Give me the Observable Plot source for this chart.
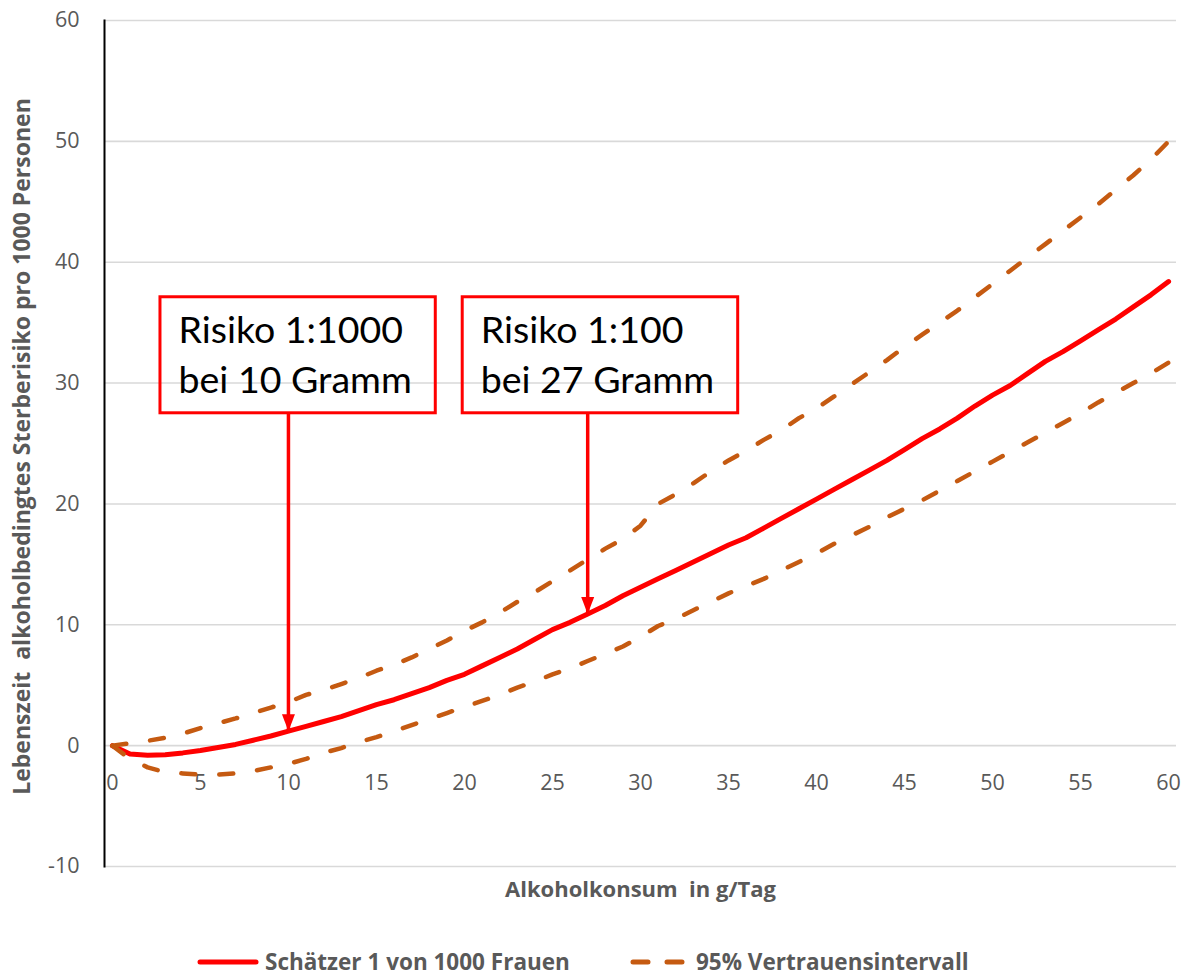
<!DOCTYPE html>
<html>
<head>
<meta charset="utf-8">
<script src="https://cdn.jsdelivr.net/npm/d3@7"></script>
<script src="https://cdn.jsdelivr.net/npm/@observablehq/plot@0.6"></script>
<style>
  html, body { margin: 0; padding: 0; background: #ffffff; font-family: "Open Sans", sans-serif; overflow: hidden; }
  #chart svg { display: block; }
  #legend { position: relative; width: 1190px; height: 58px; }
  #legend .item { position: absolute; top: 29px; height: 26px; display: flex; align-items: center; gap: 6px;
    font-family: "Open Sans", sans-serif; font-weight: bold; font-size: 22.5px; color: #595959; white-space: nowrap; line-height: 26px; }
  #legend svg { display: block; }
</style>
</head>
<body>
<div id="chart"></div>
<div id="legend"></div>
<script>
// ---- data ----
const gramm = [0,1,2,3,4,5,6,7,8,9,10,11,12,13,14,15,16,17,18,19,20,21,22,23,24,25,26,27,28,29,30,
  31,32,33,34,35,36,37,38,39,40,41,42,43,44,45,46,47,48,49,50,51,52,53,54,55,56,57,58,59,60];
const schaetzer = [0,-0.7,-0.8,-0.75,-0.6,-0.4,-0.15,0.1,0.45,0.8,1.2,1.6,2.0,2.4,2.9,3.4,3.8,4.3,4.8,5.4,5.9,
  6.6,7.3,8.0,8.8,9.6,10.2,10.9,11.6,12.4,13.1,13.8,14.5,15.2,15.9,16.6,17.2,18.0,18.8,19.6,20.4,
  21.2,22.0,22.8,23.6,24.5,25.4,26.2,27.1,28.1,29.0,29.8,30.8,31.8,32.6,33.5,34.4,35.3,36.3,37.3,38.4];
const obereGrenze = [0,0.2,0.4,0.65,1.0,1.45,1.85,2.25,2.7,3.15,3.6,4.2,4.6,5.1,5.6,6.2,6.7,7.3,8.0,8.7,9.5,
  10.2,11.0,11.9,12.7,13.6,14.5,15.4,16.3,17.1,18.2,20.0,20.8,21.7,22.7,23.6,24.4,25.3,26.1,27.1,27.9,
  28.9,29.9,30.9,31.9,33.0,34.0,35.0,36.0,37.1,38.2,39.3,40.4,41.5,42.6,43.7,44.8,46.0,47.2,48.5,50.0];
const untereGrenze = [0,-1.1,-1.8,-2.2,-2.3,-2.4,-2.4,-2.3,-2.1,-1.8,-1.5,-1.1,-0.6,-0.2,0.3,0.7,1.2,1.7,2.2,2.7,3.2,
  3.7,4.2,4.8,5.3,5.9,6.4,7.0,7.6,8.2,9.0,9.9,10.5,11.2,11.9,12.6,13.2,13.8,14.5,15.2,15.9,
  16.7,17.4,18.1,18.9,19.6,20.3,21.1,21.9,22.7,23.5,24.3,25.1,25.9,26.7,27.5,28.4,29.2,30.0,30.8,31.7];
const yTicks = [-10,0,10,20,30,40,50,60];
const xTicks = [0,5,10,15,20,25,30,35,40,45,50,55,60];
const seriesNames = ["Schätzer 1 von 1000 Frauen", "95% Vertrauensintervall"];
const annotationTexts = ["Risiko 1:1000\nbei 10 Gramm", "Risiko 1:100\nbei 27 Gramm"];
const annotationGramm = [10, 27];
const xTitle = "Alkoholkonsum\u00a0 in g/Tag";
const yTitle = "Lebenszeit\u00a0 alkoholbedingtes Sterberisiko pro 1000 Personen";

// ---- build tables ----
const rows = gramm.map((g, i) => ({g, est: schaetzer[i], hi: obereGrenze[i], lo: untereGrenze[i]}));
// annotation boxes (layout placement in data units)
const boxes = annotationTexts.map((t, i) => ({
  text: t,
  g: annotationGramm[i],
  target: schaetzer[gramm.indexOf(annotationGramm[i])],
  x1: i === 0 ? 2.73 : 19.9,
  x2: i === 0 ? 18.37 : 35.55,
  yBottom: 27.5,
  yTop: 37.1,
  yText: 29.2
}));

const RED = "#FF0000";
const ORANGE = "#C55A11";
const GRAY = "#595959";

const arrowHead = {
  draw(context) {
    context.moveTo(0, 0);
    context.lineTo(-6.5, -17);
    context.lineTo(6.5, -17);
    context.closePath();
  }
};

const chart = Plot.plot({
  width: 1190,
  height: 920,
  marginLeft: 104,
  marginRight: 14,
  marginTop: 20,
  marginBottom: 54,
  x: {domain: [-0.45, 60.45], axis: null},
  y: {domain: [-10, 60], axis: null},
  style: {fontFamily: "Open Sans", background: "white", overflow: "visible"},
  marks: [
    Plot.gridY(yTicks, {stroke: "#D9D9D9", strokeOpacity: 1, strokeWidth: 1.6}),
    Plot.frame({anchor: "left", stroke: "black", strokeWidth: 2}),
    Plot.axisY(yTicks, {tickSize: 0, tickPadding: 25, fontSize: 21.5, color: GRAY, label: null, tickFormat: d => String(d)}),
    Plot.text(xTicks, {x: d => d, y: () => 0, dy: 37, fontSize: 21.5, fill: GRAY, text: d => String(d)}),
    Plot.text([yTitle], {frameAnchor: "left", textAnchor: "middle", lineAnchor: "middle", rotate: -90, dx: -82, dy: 3,
      fontSize: 23, fontWeight: "bold", fill: GRAY}),
    Plot.text([xTitle], {frameAnchor: "bottom", lineAnchor: "middle", dy: 23, fontSize: 22, fontWeight: "bold", fill: GRAY}),
    Plot.line(rows, {x: "g", y: "est", stroke: RED, strokeWidth: 5, strokeLinejoin: "round", strokeLinecap: "round"}),
    Plot.line(rows, {x: "g", y: "hi", stroke: ORANGE, strokeWidth: 4.5, strokeDasharray: "14,24", strokeLinecap: "round", strokeLinejoin: "round"}),
    Plot.line(rows, {x: "g", y: "lo", stroke: ORANGE, strokeWidth: 4.5, strokeDasharray: "14,24", strokeLinecap: "round", strokeLinejoin: "round"}),
    Plot.rect(boxes, {x1: "x1", x2: "x2", y1: "yBottom", y2: "yTop", fill: "none", stroke: RED, strokeWidth: 3}),
    Plot.text(boxes, {x: "x1", y: "yText", text: "text", dx: 18, textAnchor: "start", lineAnchor: "bottom",
      lineHeight: 1.32, fontFamily: "Lato", fontSize: 37.5, fill: "black"}),
    Plot.link(boxes, {x1: "g", x2: "g", y1: "yBottom", y2: "target", stroke: RED, strokeWidth: 3.5}),
    Plot.dot(boxes, {x: "g", y: "target", symbol: arrowHead, fill: RED, stroke: "none", r: 8})
  ]
});
document.getElementById("chart").appendChild(chart);

// ---- legend ----
const legend = document.getElementById("legend");
const items = [
  {name: seriesNames[0], left: 197, svg: `<svg width="62" height="22"><line x1="3" x2="59" y1="11" y2="11" stroke="${RED}" stroke-width="5" stroke-linecap="round"/></svg>`},
  {name: seriesNames[1], left: 630, svg: `<svg width="60" height="22"><line x1="3" x2="57" y1="11" y2="11" stroke="${ORANGE}" stroke-width="5" stroke-linecap="round" stroke-dasharray="15,19"/></svg>`}
];
for (const it of items) {
  const d = document.createElement("div");
  d.className = "item";
  d.style.left = it.left + "px";
  d.innerHTML = it.svg + `<span>${it.name}</span>`;
  legend.appendChild(d);
}
</script>
</body>
</html>
